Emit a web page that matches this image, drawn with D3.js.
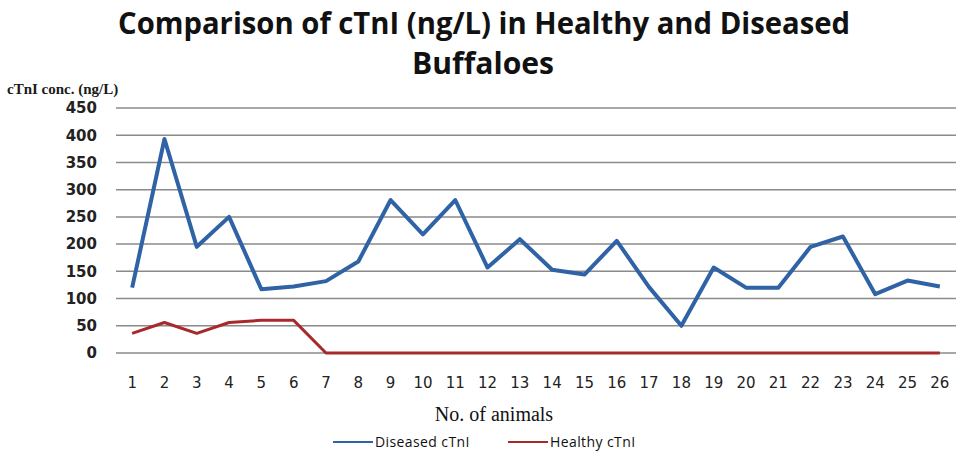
<!DOCTYPE html>
<html>
<head>
<meta charset="utf-8">
<script src="https://cdn.jsdelivr.net/npm/d3@7"></script>
<style>
  body { margin: 0; background: #fff; }
  svg { display: block; }
</style>
</head>
<body>
<div id="chart"></div>
<script>
// values
var animals = d3.range(1, 27).map(String);
var diseased = [120, 393, 195, 250, 117, 122, 132, 168, 281, 218, 281, 157, 209,
                153, 144, 206, 121, 50, 157, 120, 120, 195, 214, 108, 133, 122];
var healthy = [36, 56, 36, 56, 60, 60, 0, 0, 0, 0, 0, 0, 0,
               0, 0, 0, 0, 0, 0, 0, 0, 0, 0, 0, 0, 0];
var yTicks = [0, 50, 100, 150, 200, 250, 300, 350, 400, 450];

var svgWidth = 960;
var svgHeight = 458;
var margin = { top: 108, right: 4, bottom: 105, left: 116 };
var width = svgWidth - margin.left - margin.right;
var height = svgHeight - margin.top - margin.bottom;

var svg = d3.select("#chart")
  .append("svg")
  .attr("width", svgWidth)
  .attr("height", svgHeight);

// title
var title = svg.append("text")
  .attr("x", 484)
  .attr("text-anchor", "middle")
  .attr("font-family", "Open Sans, sans-serif")
  .attr("font-weight", "bold")
  .attr("font-size", "31px")
  .attr("fill", "#111");
title.append("tspan").attr("x", 484).attr("y", 34)
  .attr("textLength", 732).attr("lengthAdjust", "spacingAndGlyphs")
  .text("Comparison of cTnI (ng/L) in Healthy and Diseased");
title.append("tspan").attr("x", 483).attr("y", 74)
  .attr("textLength", 142).attr("lengthAdjust", "spacingAndGlyphs")
  .text("Buffaloes");

var chartGroup = svg.append("g")
  .attr("transform", `translate(${margin.left}, ${margin.top})`);

var xScale = d3.scaleBand()
  .domain(animals)
  .range([0, width]);

var yScale = d3.scaleLinear()
  .domain([0, 450])
  .range([height, 0]);

// gridlines
chartGroup.append("g")
  .selectAll("line")
  .data(yTicks)
  .enter()
  .append("line")
  .attr("x1", 0)
  .attr("x2", width)
  .attr("y1", d => yScale(d))
  .attr("y2", d => yScale(d))
  .attr("stroke", "#8a8a8a")
  .attr("stroke-width", 1.5);

// y axis labels
var leftAxis = d3.axisLeft(yScale).tickValues(yTicks).tickSize(0).tickPadding(19);
var yAxis = chartGroup.append("g").call(leftAxis);
yAxis.select(".domain").remove();
yAxis.selectAll("text")
  .attr("font-family", "DejaVu Sans, sans-serif")
  .attr("font-weight", "bold")
  .attr("font-size", "15px")
  .attr("fill", "#222");

// x axis labels
var bottomAxis = d3.axisBottom(xScale).tickSize(0).tickPadding(24);
var xAxis = chartGroup.append("g")
  .attr("transform", `translate(0, ${height})`)
  .call(bottomAxis);
xAxis.select(".domain").remove();
xAxis.selectAll("text")
  .attr("font-family", "DejaVu Sans, sans-serif")
  .attr("font-size", "15px")
  .attr("fill", "#222");

var xPos = d => xScale(d) + xScale.bandwidth() / 2;

var seriesLine = d3.line()
  .x((d, i) => xPos(animals[i]))
  .y(d => yScale(d));

chartGroup.append("path")
  .datum(healthy)
  .attr("d", seriesLine)
  .attr("fill", "none")
  .attr("stroke", "#a8282c")
  .attr("stroke-width", 3)
  .attr("stroke-linejoin", "round");

chartGroup.append("path")
  .datum(diseased)
  .attr("d", seriesLine)
  .attr("fill", "none")
  .attr("stroke", "#2f63a5")
  .attr("stroke-width", 4)
  .attr("stroke-linejoin", "round");

// axis titles
svg.append("text")
  .attr("x", 7)
  .attr("y", 94)
  .attr("font-family", "Liberation Serif, serif")
  .attr("font-weight", "bold")
  .attr("font-size", "15px")
  .attr("fill", "#1a1a1a")
  .text("cTnI conc. (ng/L)");

svg.append("text")
  .attr("x", 494)
  .attr("y", 421)
  .attr("text-anchor", "middle")
  .attr("font-family", "Liberation Serif, serif")
  .attr("font-size", "20px")
  .attr("fill", "#111")
  .text("No. of animals");

// legend
var legendItems = [
  { name: "Diseased cTnI", color: "#2f63a5", x: 333 },
  { name: "Healthy cTnI", color: "#a8282c", x: 508 }
];
var legend = svg.append("g").selectAll("g")
  .data(legendItems)
  .enter()
  .append("g")
  .attr("transform", d => `translate(${d.x}, 442)`);
legend.append("line")
  .attr("x1", 0).attr("x2", 40)
  .attr("stroke", d => d.color)
  .attr("stroke-width", 2);
legend.append("text")
  .attr("x", 42)
  .attr("dy", "0.35em")
  .attr("font-family", "Open Sans, sans-serif")
  .attr("font-size", "14px")
  .attr("letter-spacing", "0.4px")
  .attr("fill", "#111")
  .text(d => d.name);
</script>
</body>
</html>
